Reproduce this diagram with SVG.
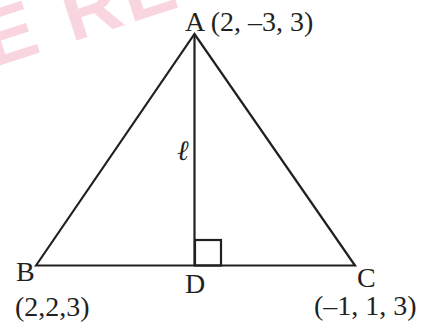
<svg xmlns="http://www.w3.org/2000/svg" width="422" height="326" viewBox="0 0 422 326">
<style>
.t{font-family:"Liberation Serif","Times New Roman",serif;font-size:28px;fill:#231f20}
.ln{stroke:#231f20;stroke-width:2.2;fill:none;stroke-linejoin:miter}
.wm{font-family:"Liberation Sans",Arial,sans-serif;font-weight:bold;font-size:80px;fill:#f9d5df;letter-spacing:4px}
</style>
<rect width="422" height="326" fill="#fff"/>
<text class="wm" transform="translate(-8,68) rotate(-18)">E RE</text>
<g id="connectors">
<path class="ln" d="M36,265.5 L194.5,34 L355,265.5 Z"/>
<line class="ln" x1="194.5" y1="34" x2="194.5" y2="265.5"/>
<rect class="ln" x="195" y="240" width="26" height="25.5"/>
</g>
<g id="A"><text class="t" x="185" y="30.5">A (2, –3, 3)</text></g>
<g id="B"><text class="t" x="16" y="280.5">B</text><text class="t" x="15" y="316">(2,2,3)</text></g>
<g id="C"><text class="t" x="357" y="287">C</text><text class="t" x="314" y="315">(–1, 1, 3)</text></g>
<g id="D"><text class="t" x="185" y="293">D</text></g>
<g id="l"><text class="t" x="177" y="160" font-style="italic">ℓ</text></g>
</svg>
